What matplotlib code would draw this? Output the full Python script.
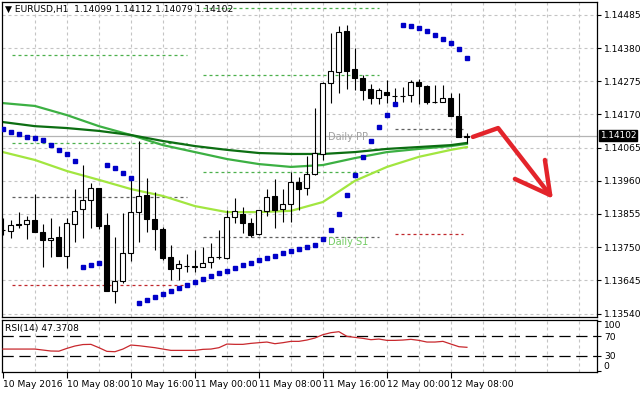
import matplotlib
matplotlib.use('Agg')
import matplotlib.pyplot as plt
import matplotlib.transforms as mtransforms

# EURUSD H1, bar 0 = 10 May 2016 00:00
opens = [1.13803, 1.13801, 1.13824, 1.13824, 1.13836, 1.13798, 1.13773, 1.13782, 1.13723, 1.13824,
         1.13871, 1.13899, 1.13937, 1.13820, 1.13612, 1.13644, 1.13732, 1.13861, 1.13915, 1.13839,
         1.13808, 1.13719, 1.13685, 1.13691, 1.13688, 1.13688, 1.13704, 1.13719, 1.13716, 1.13846,
         1.13855, 1.13827, 1.13792, 1.13865, 1.13912, 1.13871, 1.13887, 1.13957, 1.13937, 1.13982,
         1.14045, 1.14270, 1.14305, 1.14434, 1.14314, 1.14286, 1.14251, 1.14222, 1.14241, 1.14229,
         1.14229, 1.14232, 1.14273, 1.14260, 1.14210, 1.14210, 1.14222, 1.14166, 1.14099]
highs = [1.13842, 1.13836, 1.13861, 1.13849, 1.13918, 1.13824, 1.13842, 1.13817, 1.13842, 1.13934,
         1.14011, 1.13953, 1.13937, 1.13858, 1.13782, 1.13858, 1.13972, 1.14086, 1.13969, 1.13925,
         1.13814, 1.13757, 1.13710, 1.13729, 1.13742, 1.13751, 1.13763, 1.13805, 1.13868, 1.13906,
         1.13877, 1.13842, 1.13868, 1.13934, 1.13966, 1.13934, 1.13988, 1.13972, 1.14039, 1.14191,
         1.14273, 1.14428, 1.14450, 1.14453, 1.14381, 1.14295, 1.14267, 1.14254, 1.14279, 1.14254,
         1.14257, 1.14279, 1.14283, 1.14264, 1.14264, 1.14264, 1.14238, 1.14238, 1.14112]
lows = [1.13789, 1.13779, 1.13811, 1.13776, 1.13798, 1.13688, 1.13719, 1.13723, 1.13685, 1.13767,
        1.13779, 1.13811, 1.13808, 1.13612, 1.13574, 1.13637, 1.13707, 1.13767, 1.13798, 1.13742,
        1.13710, 1.13647, 1.13647, 1.13672, 1.13672, 1.13686, 1.13685, 1.13714, 1.13714, 1.13827,
        1.13795, 1.13782, 1.13790, 1.13849, 1.13811, 1.13830, 1.13830, 1.13868, 1.13915, 1.13977,
        1.14026, 1.14207, 1.14238, 1.14251, 1.14248, 1.14216, 1.14203, 1.14203, 1.14207, 1.14200,
        1.14210, 1.14210, 1.14203, 1.14203, 1.14207, 1.14208, 1.14166, 1.14099, 1.14079]
closes = [1.13805, 1.13820, 1.13820, 1.13836, 1.13798, 1.13773, 1.13779, 1.13723, 1.13827, 1.13865,
          1.13899, 1.13937, 1.13817, 1.13612, 1.13644, 1.13732, 1.13861, 1.13912, 1.13839, 1.13808,
          1.13716, 1.13681, 1.13697, 1.13690, 1.13689, 1.13701, 1.13719, 1.13718, 1.13846, 1.13865,
          1.13827, 1.13789, 1.13868, 1.13909, 1.13868, 1.13887, 1.13957, 1.13934, 1.13982, 1.14049,
          1.14270, 1.14308, 1.14431, 1.14308, 1.14286, 1.14248, 1.14222, 1.14248, 1.14232, 1.14228,
          1.14230, 1.14273, 1.14260, 1.14210, 1.14209, 1.14222, 1.14166, 1.14099, 1.14102]

# parabolic SAR
sar = [1.14124, 1.14115, 1.14108, 1.14099, 1.14096, 1.14089, 1.14073, 1.14058, 1.14045, 1.14023,
       1.13688, 1.13694, 1.13701, 1.14011, 1.14001, 1.13985, 1.13969, 1.13574, 1.13583, 1.13593,
       1.13602, 1.13612, 1.13621, 1.13631, 1.13640, 1.13650, 1.13659, 1.13669, 1.13675, 1.13685,
       1.13694, 1.13701, 1.13710, 1.13716, 1.13723, 1.13732, 1.13738, 1.13744, 1.13751, 1.13757,
       1.13776, 1.13805, 1.13855, 1.13915, 1.13979, 1.14035, 1.14086, 1.14130, 1.14168, 1.14203,
       1.14453, 1.14450, 1.14443, 1.14434, 1.14421, 1.14409, 1.14396, 1.14377, 1.14349]

# RSI(14)
rsi = [43.8, 43.8, 43.8, 43.8, 43.8, 41.8, 39.8, 39.5, 45.2, 50.0,
       53.0, 53.4, 46.6, 39.1, 38.4, 43.8, 52.0, 50.6, 48.6, 46.6,
       43.8, 41.1, 41.1, 41.1, 41.1, 43.2, 43.8, 46.6, 54.0, 53.4,
       53.4, 55.4, 56.8, 58.1, 54.7, 56.8, 59.5, 59.5, 62.2, 66.3,
       73.1, 77.2, 79.2, 69.7, 67.6, 65.6, 62.9, 64.2, 61.5, 61.5,
       62.2, 63.6, 61.5, 58.1, 58.1, 59.5, 54.0, 48.6, 47.37]

# moving averages, read every 4 bars
ma_bars = [0, 4, 8, 12, 16, 20, 24, 28, 32, 36, 40, 44, 48, 52, 56, 58]
ma_dark = [1.14146, 1.14133, 1.14127, 1.14118, 1.14105, 1.14086, 1.14070, 1.14058,
           1.14048, 1.14045, 1.14045, 1.14051, 1.14061, 1.14067, 1.14073, 1.14080]
ma_mid = [1.14206, 1.14197, 1.14168, 1.14133, 1.14105, 1.14073, 1.14051, 1.14029,
          1.14013, 1.14004, 1.14010, 1.14032, 1.14051, 1.14061, 1.14070, 1.14077]
ma_light = [1.14051, 1.14026, 1.13991, 1.13963, 1.13934, 1.13912, 1.13880, 1.13861,
            1.13861, 1.13865, 1.13893, 1.13960, 1.14004, 1.14036, 1.14058, 1.14067]

# daily pivot segments (start bar, end bar) and their levels
pivot_spans = [(1.1, 23.0), (25.0, 47.0), (49.0, 57.5)]
pivot_levels = [[1.14358, 1.14080, 1.13909, 1.13631],
                [1.14507, 1.14295, 1.13988, 1.13782],
                [1.14124, 1.13792]]
pivot_colors = [['#4cb04c', '#4cb04c', '#606060', '#c0282d'],
                ['#4cb04c', '#4cb04c', '#4cb04c', '#606060'],
                ['#606060', '#c0282d']]

price_ticks = [1.13540, 1.13645, 1.13750, 1.13855, 1.13960, 1.14065, 1.14170, 1.14275, 1.14380, 1.14485]
time_ticks = [0, 8, 16, 24, 32, 40, 48, 56]
time_labels = ['10 May 2016', '10 May 08:00', '10 May 16:00', '11 May 00:00',
               '11 May 08:00', '11 May 16:00', '12 May 00:00', '12 May 08:00']

# hand drawn red arrow (bar, price)
arrow_x = [58.75, 61.9, 68.4]
arrow_y = [1.14099, 1.14127, 1.13915]
head_x = [64.0, 68.4, 67.75]
head_y = [1.13966, 1.13915, 1.14026]

fs = 6.6
grid_kw = dict(color='#c4c4c4', lw=0.8, ls=(0, (2.7, 2.7)), zorder=0)

fig = plt.figure(figsize=(6.4, 3.93), dpi=100, facecolor='white')
ax = fig.add_axes([0.003, 0.1934, 0.9297, 0.8015])
ax2 = fig.add_axes([0.003, 0.0534, 0.9297, 0.1323])

# --- main panel ---
ax.set_xlim(-0.125, 74.25)
ax.set_ylim(1.13529, 1.14526)
for p in price_ticks:
    ax.axhline(p, **grid_kw)
for b in range(4, 75, 4):
    ax.axvline(b, **grid_kw)
    ax2.axvline(b, **grid_kw)

for (x0, x1), levels, cols in zip(pivot_spans, pivot_levels, pivot_colors):
    for lv, c in zip(levels, cols):
        ax.plot([x0, x1], [lv, lv], color=c, lw=0.9, ls=(0, (2.4, 2.4)), zorder=1)

ax.axhline(closes[-1], color='#b4b4b4', lw=0.9, zorder=1)

ax.plot(ma_bars, ma_mid, color='#3cb043', lw=1.6, zorder=2)
ax.plot(ma_bars, ma_dark, color='#0c6e12', lw=1.6, zorder=2)
ax.plot(ma_bars, ma_light, color='#a2e640', lw=1.6, zorder=2)

xs = list(range(len(opens)))
ax.vlines(xs, lows, highs, color='black', lw=0.8, zorder=3)
bottoms = [min(o, c) for o, c in zip(opens, closes)]
heights = [max(abs(c - o), 0.00001) for o, c in zip(opens, closes)]
faces = ['white' if c >= o else 'black' for o, c in zip(opens, closes)]
ax.bar(xs, heights, bottom=bottoms, width=0.62, color=faces, edgecolor='black', lw=0.8, zorder=4)

ax.plot(xs, sar, ls='none', marker='s', ms=2.2, color='#0000c8', zorder=5)

ax.text(40.6, 1.14099, 'Daily PP', color='#a0a0a0', fontsize=7, va='center', zorder=6)
ax.text(40.6, 1.13767, 'Daily S1', color='#74cc64', fontsize=7, va='center', zorder=6)

ax.plot(arrow_x, arrow_y, color='#e3242b', lw=3.2, solid_capstyle='round', solid_joinstyle='round', zorder=7)
ax.plot(head_x, head_y, color='#e3242b', lw=3.2, solid_capstyle='round', solid_joinstyle='round', zorder=7)

title = '\u25bc EURUSD,H1  %.5f %.5f %.5f %.5f' % (opens[-1], highs[-1], lows[-1], closes[-1])
ax.text(0.006, 0.975, title, transform=ax.transAxes, fontsize=fs, va='center', zorder=8)

ax.yaxis.tick_right()
ax.set_yticks(price_ticks)
ax.set_yticklabels(['%.5f' % p for p in price_ticks])
ax.tick_params(axis='y', length=3, width=0.8, pad=2, labelsize=fs)
ax.set_xticks([])
for s in ax.spines.values():
    s.set_linewidth(0.9)

# current bid box on the price scale
trans = mtransforms.blended_transform_factory(ax.transAxes, ax.transData)
ax.text(1.0045, closes[-1] + 0.00001, '%.5f' % closes[-1], transform=trans, color='white', fontsize=6.4,
        va='center', ha='left',
        bbox=dict(boxstyle='square,pad=0.08', fc='black', ec='black'), clip_on=False, zorder=9)

# --- RSI panel ---
ax2.set_xlim(-0.125, 74.25)
ax2.set_ylim(-3, 103)
ax2.axhline(70, color='black', lw=0.9, ls=(0, (9, 4.5)), zorder=1)
ax2.axhline(30, color='black', lw=0.9, ls=(0, (9, 4.5)), zorder=1)
ax2.plot(xs, rsi, color='#c8282d', lw=0.9, zorder=3)
ax2.text(0.006, 0.84, 'RSI(14) %.4f' % 47.3708, transform=ax2.transAxes, fontsize=fs, va='center')

ax2.yaxis.tick_right()
ax2.set_yticks([0, 30, 70, 100])
ax2.set_yticklabels(['0', '30', '70', '100'])
ax2.tick_params(axis='y', length=3, width=0.8, pad=2, labelsize=fs)
ylabs = ax2.get_yticklabels()
ylabs[0].set_va('bottom')
ylabs[3].set_va('top')

ax2.set_xticks(time_ticks)
ax2.set_xticklabels(time_labels)
ax2.tick_params(axis='x', length=4, width=0.8, pad=2, labelsize=fs)
for lab in ax2.get_xticklabels():
    lab.set_ha('left')
for s in ax2.spines.values():
    s.set_linewidth(0.9)

fig.savefig('out.png', dpi=100, facecolor='white')
